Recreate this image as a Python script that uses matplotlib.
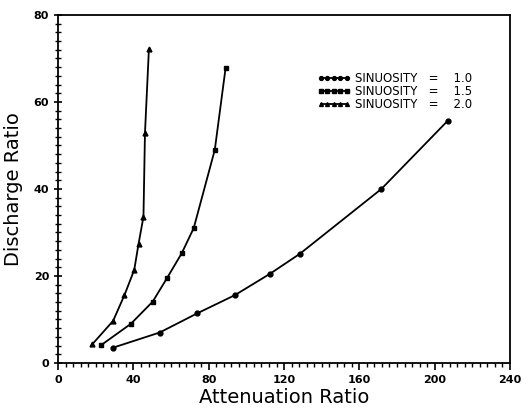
import numpy as np
import matplotlib
matplotlib.use('Agg')
import matplotlib.pyplot as plt
from matplotlib.ticker import MultipleLocator

# sinuosity = 1.0
atten_10 = [29.0, 53.9, 73.8, 93.9, 112.5, 128.4, 171.7, 207.0]
disch_10 = [3.5, 7.0, 11.4, 15.6, 20.5, 25.1, 40.0, 55.7]
# sinuosity = 1.5
atten_15 = [22.8, 38.6, 50.2, 57.8, 65.6, 72.0, 83.2, 88.9]
disch_15 = [4.1, 9.0, 14.1, 19.5, 25.2, 31.0, 49.0, 67.7]
# sinuosity = 2.0
atten_20 = [18.1, 29.2, 35.2, 40.4, 42.7, 45.3, 46.1, 48.2]
disch_20 = [4.3, 9.7, 15.6, 21.4, 27.4, 33.6, 52.8, 72.2]

labels = ['SINUOSITY   =    1.0', 'SINUOSITY   =    1.5', 'SINUOSITY   =    2.0']
xticks = [0, 40, 80, 120, 160, 200, 240]
yticks = [0, 20, 40, 60, 80]

fig = plt.figure(figsize=(5.29, 4.09), dpi=100)
ax = fig.add_axes([0.110, 0.1125, 0.854, 0.851])

ax.plot(atten_10, disch_10, 'k-o', lw=1.3, ms=3.5, label=labels[0])
ax.plot(atten_15, disch_15, 'k-s', lw=1.3, ms=3.5, label=labels[1])
ax.plot(atten_20, disch_20, 'k-^', lw=1.3, ms=3.5, label=labels[2])

ax.set_xlim(0, 240)
ax.set_ylim(0, 80)
ax.set_xticks(xticks)
ax.set_yticks(yticks)
ax.xaxis.set_minor_locator(MultipleLocator(4))
ax.yaxis.set_minor_locator(MultipleLocator(2))
ax.tick_params(axis='x', which='major', direction='out', length=5, width=1.2, labelsize=8)
ax.tick_params(axis='x', which='minor', direction='out', length=3, width=1)
ax.tick_params(axis='y', which='major', direction='inout', length=6, width=1.2, labelsize=8)
ax.tick_params(axis='y', which='minor', direction='inout', length=4, width=1)
for lab in ax.get_xticklabels() + ax.get_yticklabels():
    lab.set_fontweight('bold')
for s in ax.spines.values():
    s.set_linewidth(1.3)

ax.set_xlabel('Attenuation Ratio', fontsize=14, labelpad=2)
ax.set_ylabel('Discharge Ratio', fontsize=14, labelpad=8)

leg = ax.legend(loc='upper left', bbox_to_anchor=(0.573, 0.835), frameon=False,
                numpoints=5, handlelength=2.8, fontsize=8.5, labelspacing=0.0,
                handletextpad=0.4, markerscale=0.8, borderpad=0, borderaxespad=0)

fig.savefig('out.png', dpi=100)
